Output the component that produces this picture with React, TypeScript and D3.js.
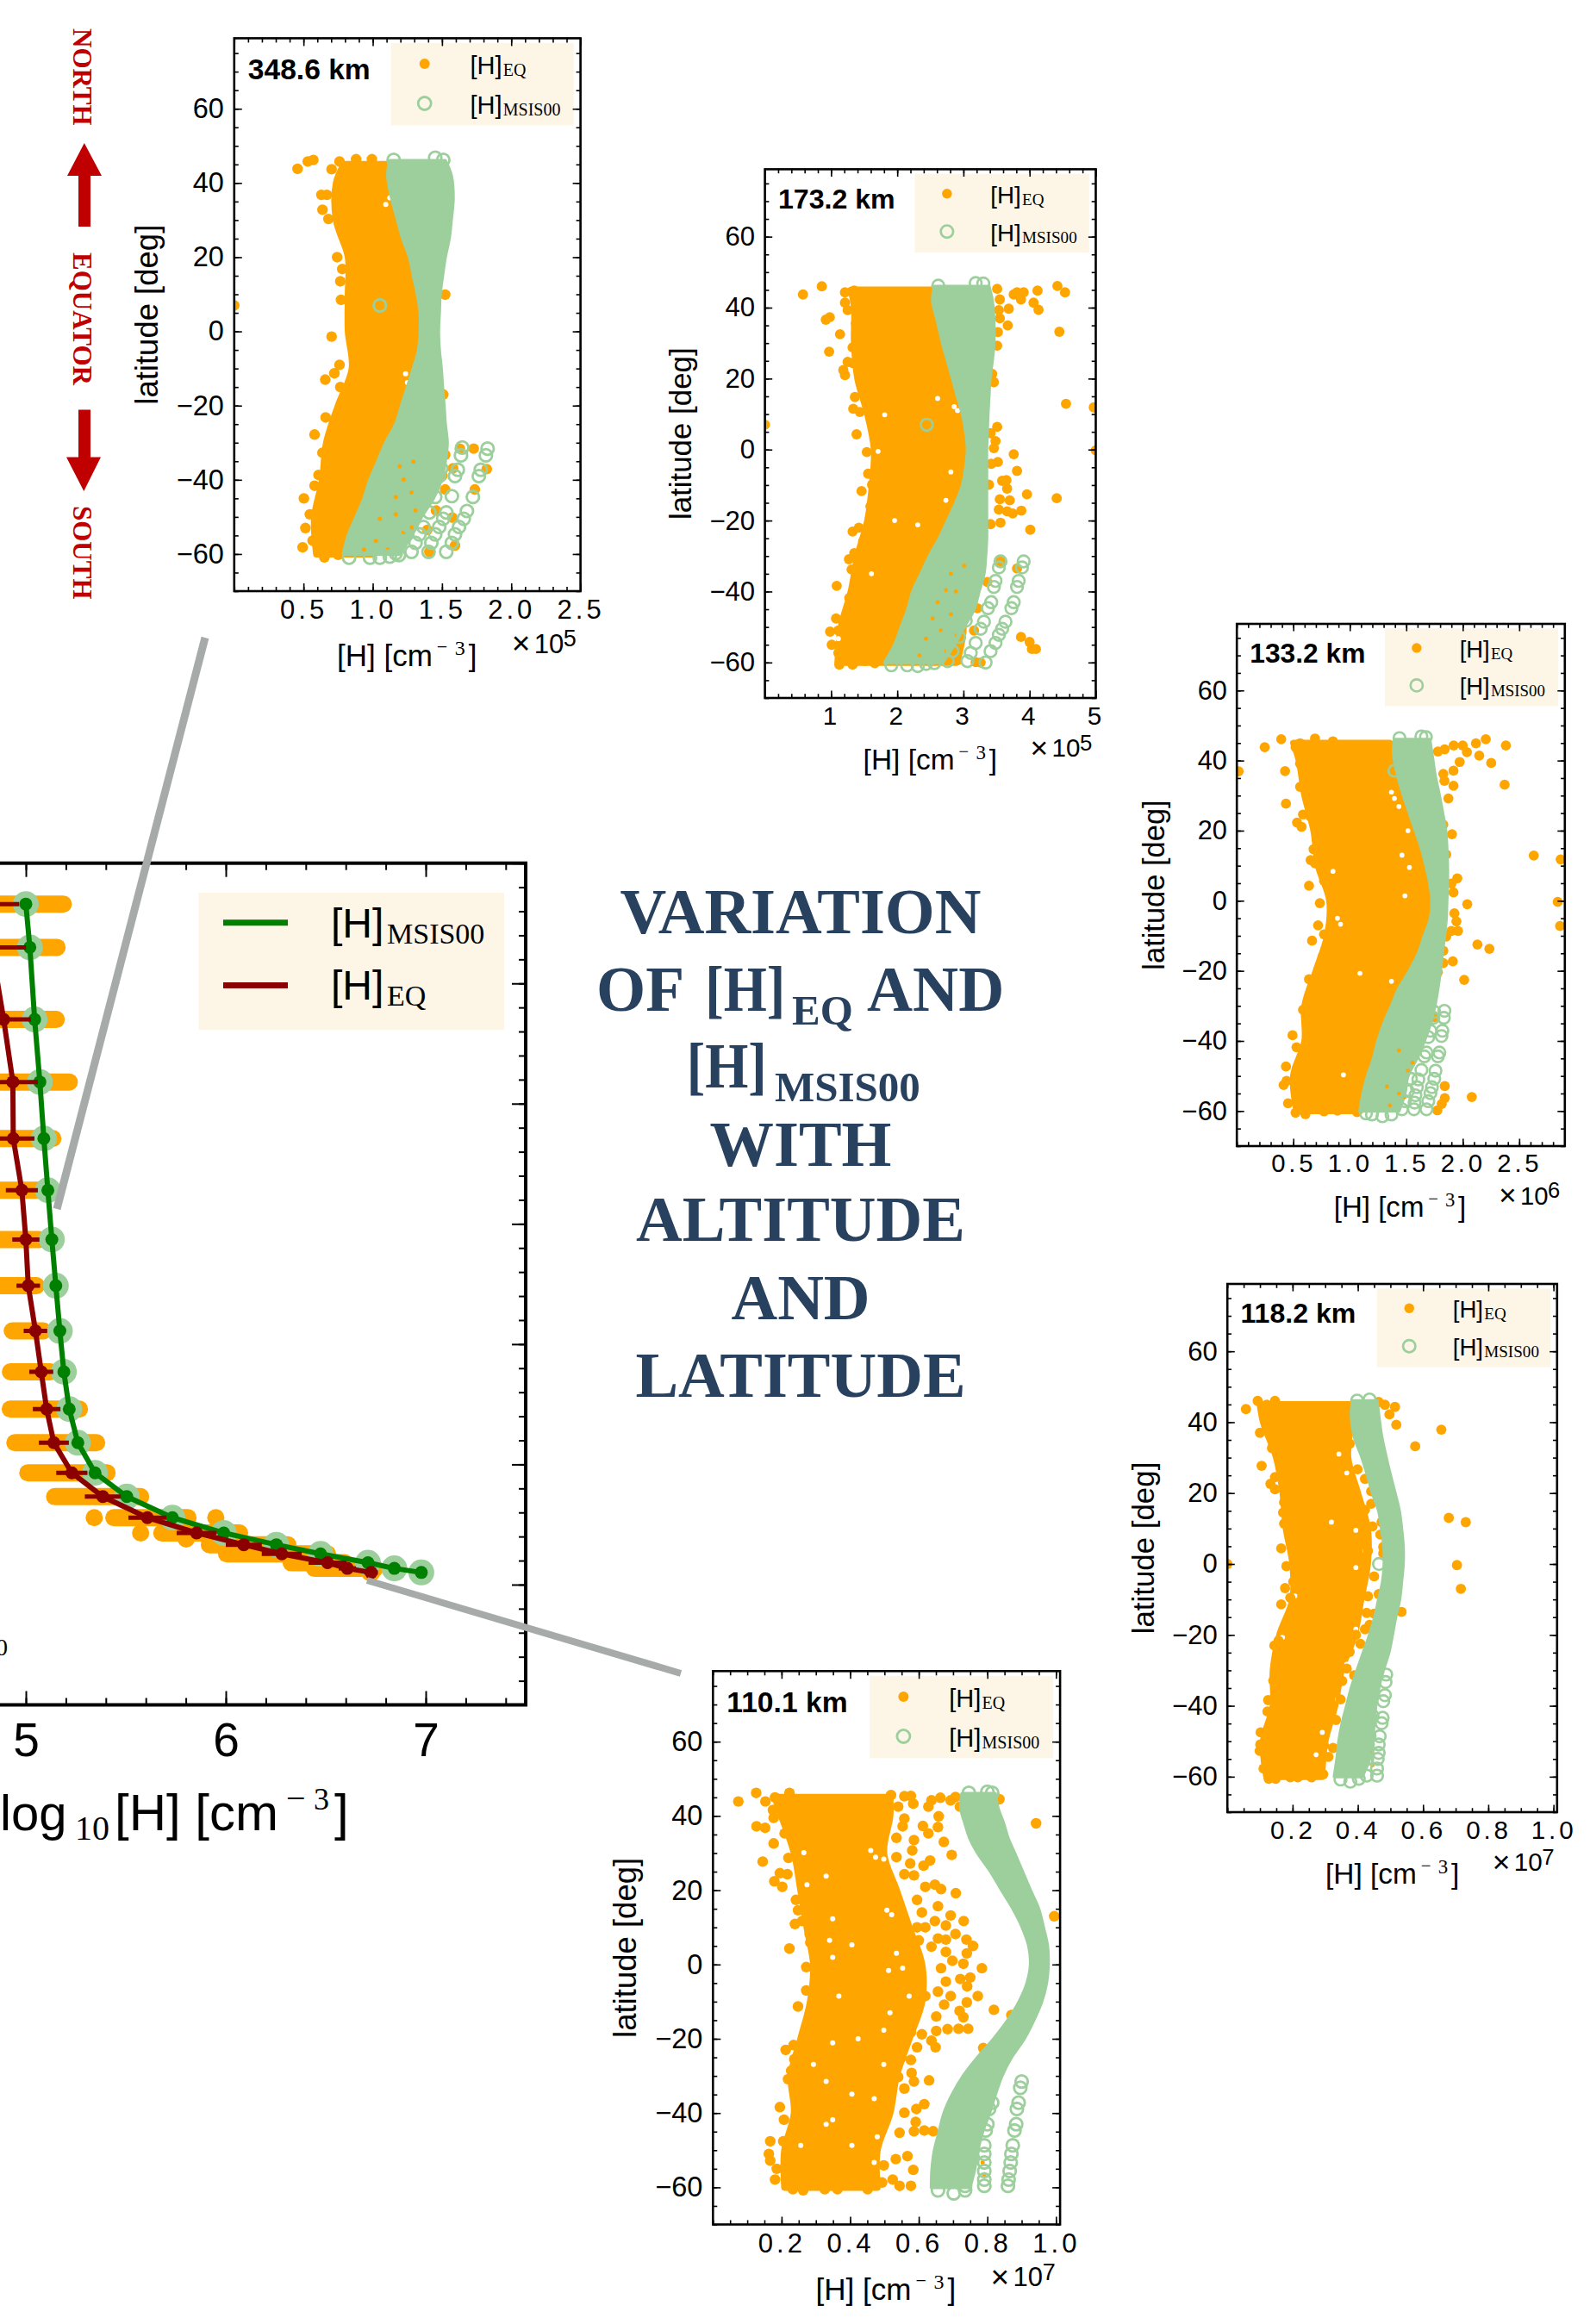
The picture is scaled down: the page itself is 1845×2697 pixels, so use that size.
import React, { useEffect, useRef } from 'react';
import * as d3 from 'd3';

type Pt = [number, number];

const ORANGE = '#ffa500';
const LIGHT_GREEN = '#9ccf9c';
const DARK_GREEN = '#008000';
const DARK_RED = '#8b0000';
const LEGEND_BG = '#fdf5e6';
const GREY = '#a6aaa9';
const NAVY = '#27415f';
const ARROW_RED = '#c00000';
const SANS = '"Liberation Sans", Arial, sans-serif';
const SERIF = '"Liberation Serif", "Times New Roman", serif';

// main profile panel: log10[H] against altitude
const altitudes = [666, 630, 570, 518, 471, 428, 387, 348.6, 311, 277, 246, 218, 193, 173.2, 155.7, 143, 133.2, 125.6, 118.2, 113.5, 110.1];
const logMsis = [5.0, 5.02, 5.044, 5.07, 5.09, 5.11, 5.13, 5.15, 5.17, 5.19, 5.217, 5.26, 5.346, 5.505, 5.733, 5.99, 6.253, 6.474, 6.711, 6.843, 6.978];
const logEq = [4.799, 4.829, 4.889, 4.935, 4.937, 4.98, 5.0, 5.012, 5.048, 5.077, 5.104, 5.14, 5.23, 5.385, 5.608, 5.854, 6.09, 6.28, 6.509, 6.608, 6.727];
const logEqErr = [0.168, 0.172, 0.136, 0.125, 0.106, 0.08, 0.068, 0.059, 0.059, 0.06, 0.069, 0.075, 0.078, 0.09, 0.095, 0.1, 0.09, 0.1, 0.095, 0.043, 0.034];
const rowLo = [4.614, 4.614, 4.614, 4.614, 4.614, 4.614, 4.614, 4.87, 4.932, 4.923, 4.922, 4.945, 5.01, 5.144, 5.44, 5.68, 5.918, 6.004, 6.327, 6.444, 6.72];
const rowHi = [5.187, 5.156, 5.152, 5.217, 5.135, 5.087, 5.066, 5.053, 5.087, 5.122, 5.268, 5.354, 5.406, 5.574, 5.811, 6.069, 6.31, 6.509, 6.595, 6.746, 6.73];
const mainStrays: Pt[] = [[5.342, 155.7], [5.95, 155.7], [5.574, 143], [5.802, 138]];

// latitude grids shared by the small panels
const coreLats = [45, 40, 30, 20, 10, 0, -10, -20, -30, -40, -50, -60];
const bandLats = [46, 42, 36, 30, 25, 20, 15, 10, 5, 0, -5, -10, -15, -20, -25, -30, -35, -40, -45, -50, -55, -60];
const band5Lats = [46, 42, 38, 34, 30, 25, 20, 15, 10, 5, 0, -5, -10, -15, -20, -25, -30, -35, -40, -45, -50, -55, -60];

// 348.6 km
const core1Left = [0.794, 0.737, 0.737, 0.823, 0.823, 0.823, 0.851, 0.751, 0.666, 0.637, 0.58, 0.594];
const core1Right = [1.166, 1.166, 1.194, 1.3, 1.33, 1.36, 1.32, 1.25, 1.166, 1.2, 1.1, 1.0];
const band1Left = [1.123, 1.109, 1.137, 1.18, 1.217, 1.266, 1.294, 1.323, 1.343, 1.343, 1.331, 1.294, 1.251, 1.209, 1.166, 1.094, 1.037, 0.98, 0.937, 0.88, 0.823, 0.789];
const band1Right = [1.523, 1.566, 1.58, 1.566, 1.551, 1.523, 1.503, 1.486, 1.48, 1.474, 1.48, 1.494, 1.503, 1.514, 1.523, 1.537, 1.523, 1.494, 1.437, 1.351, 1.28, 1.194];
const dots1: Pt[] = [[0.457, 43.8], [0.531, 45.8], [0.571, 46.2], [0.703, 43.7], [0.76, 45.8], [0.88, 46.4], [0.994, 46.4], [0.629, 36.8], [0.669, 36.8], [0.637, 32.8], [0.68, 30.3], [0.743, 20], [0.78, 16.8], [0.766, 13.5], [0.771, 8.5], [0.703, -1.4], [0.76, -9], [0.723, -11.3], [0.657, -13], [0.766, -15], [0.66, -23.2], [0.58, -27.8], [0.637, -32.7], [0.609, -38.7], [0.58, -41.6], [0.503, -45], [0.546, -49.3], [0.514, -53], [0.494, -58.2], [0.566, -56.4], [0.651, -60.9], [0.751, -60.2], [1.523, 9.9], [1.223, 11], [1.25, 9.9], [1.266, 14], [1.303, 6.7], [1.314, 1], [1.28, 4], [1.266, -4.9], [1.509, -17], [1.523, -33.3], [1.503, -38.9], [1.523, -42.6], [1.457, -48.3], [1.58, -36.9], [1.629, -31.6], [1.729, -31.6], [1.823, -37.1], [1.737, -42.6], [1.574, -50.2], [1.409, -59.4], [1.594, -57.7], [1.394, -53.5], [0, 7]];
const rings1: Pt[] = [[1.829, -31.6], [1.817, -33.4], [1.78, -37.3], [1.766, -39], [1.723, -44.6], [1.68, -48.4], [1.657, -50.5], [1.623, -52.7], [1.594, -54.7], [1.571, -57], [1.531, -59.4], [1.646, -31.3], [1.637, -33.4], [1.614, -37.3], [1.594, -39], [1.571, -44.4], [1.531, -48.8], [1.509, -50.5], [1.48, -52.7], [1.451, -54.7], [1.423, -57], [1.403, -59.4], [1.28, -59.4], [1.309, -57], [1.337, -54.7], [1.366, -52.7], [1.409, -48.8], [1.451, -44.6], [1.48, -39], [1.494, -36.9], [1.166, -59.8], [1.194, -57], [1.237, -54.7], [1.266, -52.7], [1.294, -48.8], [1.337, -44.6], [1.366, -39.3], [1.394, -36.3], [1.051, -61], [1.123, -60.7], [1.189, -60.3], [0.98, -61], [0.829, -61], [1.151, 46.2], [1.451, 46.8], [1.509, 46.2], [1.051, 7]];
const specks1: Pt[] = [[1.223, -39.9], [1.166, -44.6], [1.28, -43.4], [1.051, -50.5], [1.166, -49.3], [1.309, -48.2], [1.223, -54.1], [1.023, -56.5], [1.109, -58.8], [1.28, -52.9], [1.194, -36.3], [1.294, -35.1], [0.937, -58.8]];
const holes1: Pt[] = [[1.094, 34.2], [1.123, 36], [1.237, -11.4], [1.251, -13.8]];

// 173.2 km
const core2Left = [1.3, 1.35, 1.35, 1.4, 1.55, 1.65, 1.62, 1.55, 1.4, 1.3, 1.15, 1.1];
const core2Right = [2.7, 2.7, 2.8, 2.9, 3.0, 3.05, 3.0, 2.9, 2.8, 2.9, 3.0, 2.9];
const band2Left = [2.56, 2.535, 2.61, 2.685, 2.76, 2.835, 2.91, 2.985, 3.035, 3.06, 3.035, 2.985, 2.885, 2.76, 2.635, 2.485, 2.36, 2.235, 2.16, 2.06, 1.96, 1.81];
const band2Right = [3.385, 3.435, 3.46, 3.46, 3.435, 3.4, 3.385, 3.37, 3.36, 3.35, 3.35, 3.35, 3.35, 3.35, 3.35, 3.335, 3.31, 3.235, 3.16, 3.01, 2.86, 2.685];
const dots2: Pt[] = [[0.575, 43.7], [0.86, 46], [1.21, 44.3], [1.35, 44.8], [1.21, 41.4], [1.25, 39.3], [0.92, 36.6], [0.98, 37.3], [1.135, 32.5], [1.375, 35.6], [1.445, 32], [0.97, 27.6], [1.325, 28.8], [1.25, 24.7], [1.325, 24.4], [1.185, 22.4], [1.21, 21], [1.485, 16.7], [1.36, 14.8], [1.335, 11.5], [1.435, 10.6], [1.385, 4.3], [1.635, 5.8], [1.54, -0.7], [1.685, -4.9], [1.56, -6.8], [1.62, -9.9], [1.46, -11.7], [1.67, -13.4], [1.595, -16], [1.325, -23.1], [1.42, -22], [1.485, -25.8], [1.35, -29.2], [1.27, -30.9], [1.31, -33.8], [1.385, -36.1], [1.36, -38.7], [1.085, -38.4], [1.56, -37.8], [1.275, -41.8], [1.46, -41.3], [1.075, -47.6], [0.985, -51.3], [1.11, -51], [1.01, -55], [1.11, -57.3], [1.125, -60.6], [1.325, -60.6], [1.51, -59.6], [1.66, -60.2], [3.51, 45.3], [3.55, 42.3], [3.535, 39.3], [3.55, 37], [3.685, 39.7], [3.67, 35], [3.52, 33.1], [3.51, 29.3], [3.76, 43.7], [3.81, 44.3], [3.91, 44.3], [3.87, 42.3], [4.06, 41.4], [4.12, 44.8], [4.135, 39.4], [4.42, 46.1], [4.535, 44.3], [4.45, 33.2], [4.55, 12.9], [4.97, 11.9], [5, -0.2], [0, 7], [3.46, 19], [3.435, 21.3], [3.51, 6.4], [3.41, 4.6], [3.485, 2.4], [3.46, 0.4], [3.76, -1.3], [3.52, -3.5], [3.42, -4], [3.81, -6], [3.585, -8.8], [3.65, -8.6], [3.66, -11], [3.385, -9.9], [3.96, -12.6], [3.55, -14], [3.7, -14.3], [4.41, -13.7], [3.535, -16.9], [3.66, -17.4], [3.745, -18], [3.875, -17.2], [3.41, -21], [3.56, -20.6], [4.01, -22.6], [3.56, -31.5], [3.81, -33.5], [3.26, -33.2], [3.36, -37.3], [3.21, -44.7], [3.87, -52.8], [4, -54.2], [4.035, -56.2], [4.095, -56.2], [2.91, -59.3], [3.16, -51], [3.185, -59.9], [3.26, -60]];
const rings2: Pt[] = [[3.91, -31.5], [3.885, -33.2], [3.835, -37], [3.81, -38.7], [3.76, -43], [3.725, -44.7], [3.635, -48.5], [3.585, -50.5], [3.535, -52.2], [3.485, -54.5], [3.41, -56.8], [3.335, -60], [3.56, -31.5], [3.535, -33.2], [3.485, -37], [3.46, -38.7], [3.42, -43], [3.37, -44.7], [3.31, -48.5], [3.26, -50.5], [3.185, -54.5], [3.11, -57.3], [3.06, -59.6], [2.76, -59.6], [2.835, -56.8], [2.935, -52.8], [3.035, -48.2], [2.56, -60.2], [2.435, -60.4], [2.31, -61], [2.15, -60.8], [1.91, -60.8], [2.61, -56.8], [2.735, -52.8], [2.62, 46.2], [3.185, 46.9], [3.3, 46.8], [2.445, 7]];
const specks2: Pt[] = [[2.81, -35], [2.735, -39.6], [2.61, -43], [2.885, -40], [2.81, -46.4], [2.535, -47.6], [2.66, -51], [2.435, -53.3], [2.86, -52.2], [2.335, -58], [2.735, -56.8], [3.01, -32.7]];
const holes2: Pt[] = [[2.61, 14.4], [2.91, 11], [1.96, -20], [2.31, -21.2], [1.71, -0.5], [2.81, -6.3], [1.61, -35], [1.81, 9.8], [2.735, -14.3], [1.11, -53.3], [2.86, 12.1], [2.81, 30.5]];

// 133.2 km
const core3Left = [0.5, 0.55, 0.6, 0.68, 0.72, 0.82, 0.8, 0.7, 0.6, 0.6, 0.5, 0.53];
const core3Right = [1.355, 1.4, 1.488, 1.62, 1.674, 1.727, 1.674, 1.515, 1.382, 1.276, 1.143, 1.09];
const band3Left = [1.395, 1.387, 1.422, 1.475, 1.528, 1.581, 1.634, 1.674, 1.708, 1.727, 1.714, 1.66, 1.607, 1.528, 1.435, 1.369, 1.302, 1.249, 1.209, 1.157, 1.117, 1.09];
const band3Right = [1.708, 1.727, 1.754, 1.793, 1.822, 1.849, 1.859, 1.865, 1.865, 1.859, 1.854, 1.838, 1.819, 1.801, 1.78, 1.753, 1.714, 1.66, 1.594, 1.515, 1.488, 1.435];
const dots3: Pt[] = [[0.247, 43.8], [0.393, 46.1], [0.427, 37], [0.52, 43.8], [0.56, 44.9], [0.692, 46.3], [0.851, 45.5], [0.56, 41.2], [0.56, 39.1], [0.626, 35], [0.56, 32.5], [0.435, 27.7], [0.586, 24.6], [0.533, 22.3], [0.573, 21.1], [0.652, 24], [0.666, 28], [0.706, 17.6], [0.679, 14.7], [0.653, 11.6], [0.692, 10.7], [0.639, 4.3], [0.772, 5.7], [0.735, -0.7], [0.851, -0.9], [0.719, -7], [0.666, -11.4], [0.772, -9.6], [0.759, -16], [0.639, -22.4], [0.692, -25.3], [0.586, -31.1], [0.613, -32.8], [0.493, -38.4], [0.528, -41.8], [0.613, -43.9], [0.435, -47.3], [0.533, -47.7], [0.414, -52.6], [0.44, -51.4], [0.454, -57.8], [0.52, -60.5], [0.607, -60.9], [0.772, -60.1], [0.891, -59.9], [1.064, -60.3], [1.78, 42.6], [1.84, 43.2], [1.92, 44.3], [2, 44.3], [2.037, 42.4], [2.117, 44.9], [2.146, 41.4], [2.204, 46.1], [2.252, 39.3], [2.382, 44.3], [2.371, 33.1], [1.973, 39.6], [1.918, 37.1], [1.828, 36.2], [1.838, 34.2], [1.918, 32.8], [1.873, 29.2], [1.828, 21.7], [1.905, 19], [1.854, 13.2], [2.629, 12.9], [2.867, 11.8], [2.841, -0.3], [2.862, -7.2], [1.952, 6.4], [1.9, 4.9], [1.918, 2.4], [2.04, -1], [1.926, -3.6], [1.944, -5.9], [1.9, -8.6], [1.958, -8.6], [1.854, -10.2], [2.13, -12.5], [2.236, -13.7], [1.828, -14.3], [1.828, -17.8], [1.912, -17.3], [2.013, -22.6], [1.78, -20.4], [1.748, -33.2], [1.841, -52.9], [2.08, -56], [1.841, -56.3], [1.814, -58], [1.775, -59.8], [0.016, 36.9]];
const rings3: Pt[] = [[1.838, -31.4], [1.833, -33.4], [1.82, -37.1], [1.812, -38.6], [1.793, -43.3], [1.78, -44.4], [1.759, -48.5], [1.748, -50.8], [1.727, -53.2], [1.714, -54.9], [1.695, -57.2], [1.679, -59.5], [1.748, -31.7], [1.74, -33.4], [1.714, -37.1], [1.695, -38.9], [1.679, -43.3], [1.66, -44.4], [1.634, -48.3], [1.607, -51], [1.594, -53.2], [1.581, -55.5], [1.573, -57.6], [1.568, -59.5], [1.541, -50.8], [1.515, -54.3], [1.488, -57.2], [1.462, -59.5], [1.289, -61.5], [1.196, -61], [1.369, -61], [1.143, -60.7], [1.44, 46.4], [1.634, 46.9], [1.674, 46.7], [1.395, 37.1]];
const specks3: Pt[] = [[1.435, -42.7], [1.515, -48.5], [1.329, -53], [1.435, -55], [1.488, -56], [1.355, -58.4], [1.554, -46.2]];
const holes3: Pt[] = [[1.369, 31], [1.395, 29.2], [1.435, 26.9], [1.462, 13], [0.918, -6.7], [0.891, -5], [1.488, 1.4], [1.528, 9.5], [1.369, -23], [0.944, -49.7], [1.515, 20], [1.09, -20.7], [0.851, 8.4]];

// 118.2 km
const core4Left = [0.1, 0.11, 0.15, 0.17, 0.18, 0.2, 0.2, 0.16, 0.14, 0.14, 0.11, 0.12];
const core4Right = [0.39, 0.38, 0.37, 0.4, 0.43, 0.43, 0.41, 0.39, 0.35, 0.33, 0.3, 0.29];
const band4Left = [0.384, 0.38, 0.389, 0.413, 0.43, 0.445, 0.464, 0.473, 0.48, 0.481, 0.476, 0.464, 0.452, 0.436, 0.417, 0.398, 0.38, 0.366, 0.352, 0.342, 0.336, 0.328];
const band4Right = [0.459, 0.464, 0.473, 0.487, 0.5, 0.514, 0.527, 0.534, 0.539, 0.539, 0.534, 0.528, 0.516, 0.506, 0.495, 0.478, 0.464, 0.455, 0.45, 0.445, 0.436, 0.413];
const dots4: Pt[] = [[0.057, 43.7], [0.093, 46], [0.121, 44.9], [0.146, 46], [0.132, 39.3], [0.1, 37], [0.137, 32.7], [0.105, 27.7], [0.132, 22.6], [0.146, 21.1], [0.146, 24.5], [0.174, 17.4], [0.171, 14.5], [0.174, 11.4], [0.202, 6], [0.165, 4.4], [0.214, 2.8], [0.181, -0.6], [0.211, -0.6], [0.177, -6.8], [0.202, -5], [0.193, -9.5], [0.165, -11.4], [0.188, -15.9], [0.179, -18.8], [0.157, -21.6], [0.144, -23], [0.155, -25.4], [0.151, -28.3], [0.141, -32.9], [0.125, -38.4], [0.123, -41.6], [0.151, -43.4], [0.102, -47.5], [0.125, -48], [0.101, -50.9], [0.099, -52.7], [0.123, -54.4], [0.111, -57.7], [0.127, -60.6], [0.148, -60.6], [0.193, -60.2], [0.216, -60.2], [0.258, -60.2], [0, 0], [0.294, -59.3], [0.31, -54.4], [0.296, -51.2], [0.324, -51.9], [0.333, -44], [0.347, -38.2], [0.366, -29.5], [0.389, -31.4], [0.352, -33], [0.375, -24.8], [0.408, -22.5], [0.394, -20], [0.422, -18.4], [0.436, -17.2], [0.394, -15.5], [0.427, -13.8], [0.45, -14], [0.534, -13.5], [0.464, -8.5], [0.431, -9.1], [0.403, -5], [0.45, -3.5], [0.431, 3.7], [0.478, 4.8], [0.478, 3], [0.469, 8.3], [0.445, 10.6], [0.473, 11.8], [0.441, 17], [0.422, 15.3], [0.441, 20.5], [0.422, 24], [0.399, 26.7], [0.356, 27.5], [0.375, 33.9], [0.375, 37.3], [0.408, 40.8], [0.464, 45.7], [0.483, 44.9], [0.514, 44.3], [0.497, 42.2], [0.518, 39.3], [0.656, 37.9], [0.576, 33.2], [0.679, 13], [0.731, 11.8], [0.704, -0.3], [0.716, -7]];
const rings4: Pt[] = [[0.487, -31.2], [0.485, -33.3], [0.483, -37], [0.478, -38.7], [0.476, -43.4], [0.473, -44.9], [0.467, -48.6], [0.464, -50.9], [0.464, -53.3], [0.461, -55], [0.459, -57.7], [0.459, -59.7], [0.436, -48.6], [0.431, -50.9], [0.429, -55], [0.427, -59.7], [0.445, -42.8], [0.377, -61.4], [0.347, -60.8], [0.403, -60.6], [0.398, 46.1], [0.436, 46.4], [0.465, 0]];
const specks4: Pt[] = [[0.445, -53.3], [0.445, -56.8]];
const holes4: Pt[] = [[0.342, 31], [0.366, 25.7], [0.319, 11.8], [0.394, 9.5], [0.422, 3.7], [0.394, -1], [0.403, -5.6], [0.394, -18.4], [0.366, -28.3], [0.338, -38.2], [0.291, -47.5], [0.272, -53.8], [0.207, -9], [0.169, -20.7]];

// 110.1 km
const core5Left = [0.181, 0.2, 0.237, 0.256, 0.274, 0.293, 0.284, 0.256, 0.228, 0.237, 0.209, 0.209];
const core5Right = [0.516, 0.516, 0.498, 0.535, 0.572, 0.609, 0.609, 0.572, 0.535, 0.516, 0.479, 0.479];
const band5Left = [0.726, 0.723, 0.735, 0.749, 0.772, 0.81, 0.842, 0.875, 0.902, 0.921, 0.926, 0.916, 0.893, 0.86, 0.819, 0.772, 0.73, 0.698, 0.674, 0.66, 0.646, 0.639, 0.637];
const band5Right = [0.823, 0.831, 0.847, 0.86, 0.879, 0.902, 0.925, 0.949, 0.963, 0.975, 0.977, 0.972, 0.958, 0.935, 0.907, 0.87, 0.842, 0.823, 0.806, 0.786, 0.772, 0.763, 0.749];
const dots5: Pt[] = [[0.074, 43.9], [0.126, 46.2], [0.153, 43.9], [0.127, 37.2], [0.152, 36.8], [0.177, 39.5], [0.175, 41.6], [0.181, 45], [0.223, 46.2], [0.177, 32.6], [0.209, 35.3], [0.22, 28.7], [0.145, 27.7], [0.195, 24.6], [0.217, 24.3], [0.179, 22.4], [0.202, 20.9], [0.242, 17.4], [0.248, 14.6], [0.239, 10.9], [0.26, 11.7], [0.282, 8.2], [0.284, 5.9], [0.223, 4.3], [0.316, 3], [0.272, -0.7], [0.318, -0.7], [0.3, -5], [0.272, -7], [0.298, -8.5], [0.248, -11.3], [0.321, -6.7], [0.288, -16.2], [0.267, -18.5], [0.235, -21.7], [0.212, -23], [0.237, -25.5], [0.228, -28.6], [0.219, -30.9], [0.247, -33.2], [0.195, -38.4], [0.207, -41.8], [0.247, -43.8], [0.167, -47.6], [0.205, -47.6], [0.163, -51], [0.167, -52.8], [0.186, -55], [0.181, -57.9], [0.233, -60.5], [0.263, -60.8], [0.326, -60.5], [0.363, -60.5], [0.451, -60.5], [0.493, -58.7], [0.524, -57.9], [0.544, -59.6], [0.577, -59.6], [0.584, -55.3], [0.567, -51.6], [0.533, -52.4], [0.498, -54.1], [0.544, -45.3], [0.586, -44.9], [0.616, -44.7], [0.642, -44.9], [0.591, -42.4], [0.593, -38.9], [0.616, -37.6], [0.558, -39.9], [0.558, -33.4], [0.586, -31.5], [0.63, -31.2], [0.579, -29.2], [0.54, -30.3], [0.577, -25.7], [0.549, -25.1], [0.595, -22.3], [0.649, -22.3], [0.637, -20.5], [0.609, -18.8], [0.651, -17.9], [0.684, -17.4], [0.716, -17.3], [0.744, -17.3], [0.577, -18.2], [0.651, -14], [0.73, -14.2], [0.719, -12.5], [0.674, -10.8], [0.74, -10.2], [0.772, -8.5], [0.693, -8.5], [0.656, -7.3], [0.619, -8.5], [0.741, -5.9], [0.679, -4.6], [0.721, -3.9], [0.75, -3.5], [0.784, -1], [0.665, -1], [0.698, 1], [0.73, 0.2], [0.679, 3.4], [0.74, 3], [0.758, 5], [0.637, 4.8], [0.739, 6.7], [0.707, 8.2], [0.679, 6.7], [0.656, 7], [0.6, 6.5], [0.679, 10.5], [0.731, 11.7], [0.693, 13.2], [0.619, 10], [0.647, 11.7], [0.595, 10], [0.656, 15.7], [0.609, 14], [0.665, 20.3], [0.708, 19.2], [0.619, 20.9], [0.647, 21.5], [0.595, 17.4], [0.558, 24.3], [0.586, 24], [0.614, 26.6], [0.633, 28], [0.696, 29.5], [0.575, 27.2], [0.673, 33], [0.586, 33.5], [0.628, 35.3], [0.656, 37], [0.658, 39.9], [0.612, 37.3], [0.581, 30.7], [0.535, 34.1], [0.535, 28.9], [0.558, 39.3], [0.553, 37.2], [0.54, 42.5], [0.584, 43.3], [0.558, 45.3], [0.577, 45.4], [0.519, 45.6], [0.628, 42.5], [0.637, 44.2], [0.663, 44.9], [0.693, 44.2], [0.707, 45.1], [0.72, 42.5], [0.835, 44.5], [0.942, 38], [0.995, 13], [0.87, -13.6], [0.788, -22.5], [0.819, -12.2]];
const rings5: Pt[] = [[0.9, -31.5], [0.896, -33.2], [0.891, -37.2], [0.886, -38.9], [0.884, -43], [0.879, -44.7], [0.874, -48.7], [0.87, -51], [0.868, -53.3], [0.865, -55.6], [0.862, -57.9], [0.86, -59.6], [0.814, -37.2], [0.805, -38.9], [0.8, -43], [0.795, -44.7], [0.791, -48.7], [0.791, -51], [0.791, -53.3], [0.791, -55.6], [0.791, -57.9], [0.791, -59.6], [0.744, -51], [0.74, -55.6], [0.735, -59.6], [0.702, -61.6], [0.656, -60.8], [0.735, -60.8], [0.746, 46.2], [0.8, 46.5], [0.814, 46.2]];
const specks5: Pt[] = [[0.786, -53.3], [0.791, -56.5]];
const holes5: Pt[] = [[0.265, 30.1], [0.46, 30.7], [0.474, 28.9], [0.498, 28.4], [0.274, 21.5], [0.33, 23.8], [0.349, 12.3], [0.507, 14.6], [0.521, 13.4], [0.405, 5.3], [0.34, 6.5], [0.535, 3], [0.553, -1], [0.349, 1.9], [0.512, -1.6], [0.572, -8.5], [0.367, -8.5], [0.516, -13], [0.498, -17.7], [0.349, -21.1], [0.423, -20], [0.498, -26.9], [0.33, -31.5], [0.405, -34.9], [0.47, -36.1], [0.349, -41.8], [0.479, -46.4], [0.405, -48.7], [0.256, -48.7], [0.47, -53.3], [0.33, -43], [0.293, -26.9]];

const panels = [
  { label: '348.6 km', box: [271.8, 44.4, 401.8, 641.6], xMax: 2.5, xMajor: [0.5, 1, 1.5, 2, 2.5], xStep: 0.1, xFmt: '.1f', exp: '5', lats: bandLats, coreL: core1Left, coreR: core1Right, bandL: band1Left, bandR: band1Right, dots: dots1, rings: rings1, specks: specks1, holes: holes1 },
  { label: '173.2 km', box: [887.6, 196.4, 383.9, 613.6], xMax: 5, xMajor: [1, 2, 3, 4, 5], xStep: 0.2, xFmt: 'd', exp: '5', lats: bandLats, coreL: core2Left, coreR: core2Right, bandL: band2Left, bandR: band2Right, dots: dots2, rings: rings2, specks: specks2, holes: holes2 },
  { label: '133.2 km', box: [1435.2, 724, 380.6, 606], xMax: 2.904, xMajor: [0.5, 1, 1.5, 2, 2.5], xStep: 0.1, xFmt: '.1f', exp: '6', lats: bandLats, coreL: core3Left, coreR: core3Right, bandL: band3Left, bandR: band3Right, dots: dots3, rings: rings3, specks: specks3, holes: holes3 },
  { label: '118.2 km', box: [1424.2, 1490, 382.6, 613], xMax: 1.011, xMajor: [0.2, 0.4, 0.6, 0.8, 1], xStep: 0.05, xFmt: '.1f', exp: '7', lats: bandLats, coreL: core4Left, coreR: core4Right, bandL: band4Left, bandR: band4Right, dots: dots4, rings: rings4, specks: specks4, holes: holes4 },
  { label: '110.1 km', box: [827.3, 1939.3, 402.8, 642.2], xMax: 1.012, xMajor: [0.2, 0.4, 0.6, 0.8, 1], xStep: 0.05, xFmt: '.1f', exp: '7', lats: band5Lats, coreL: core5Left, coreR: core5Right, bandL: band5Left, bandR: band5Right, dots: dots5, rings: rings5, specks: specks5, holes: holes5 },
];

const yMajor = [-60, -40, -20, 0, 20, 40, 60];
const yMinor = d3.range(-70, 80, 5);

const tickRange = (max: number, step: number) => d3.range(0, Math.floor(max / step + 1e-6) + 1).map(i => i * step);

function styleAxis(sel: any, width = 2) {
  sel.select('.domain').remove();
  sel.selectAll('line').attr('stroke', '#000').attr('stroke-width', width);
}

function txt(parent: any, x: number, y: number, s: string, size: number, family = SANS, extra: Record<string, any> = {}) {
  const t = parent.append('text').attr('x', x).attr('y', y).attr('font-size', size).attr('font-family', family).attr('fill', '#000').text(s);
  Object.entries(extra).forEach(([k, v]) => t.attr(k, v));
  return t;
}

function drawPanel(svg: any, p: any, idx: number) {
  const [left, top, w, h] = p.box;
  const k = h / 641.6;
  const g = svg.append('g').attr('transform', `translate(${left},${top})`);
  const x = d3.scaleLinear().domain([0, p.xMax]).range([0, w]);
  const y = d3.scaleLinear().domain([-70, 79]).range([h, 0]);

  const clipId = `clip-${idx}`;
  g.append('clipPath').attr('id', clipId).append('rect').attr('width', w).attr('height', h);
  const plot = g.append('g').attr('clip-path', `url(#${clipId})`);

  // dense EQ cloud
  const coreArea = d3.area<number>()
    .curve(d3.curveCatmullRom)
    .y(d => y(d))
    .x0((_, i) => x(p.coreL[i]))
    .x1((_, i) => x(p.coreR[i]));
  plot.append('path').attr('d', coreArea(coreLats)).attr('fill', ORANGE).attr('stroke', ORANGE).attr('stroke-width', 8 * k).attr('stroke-linejoin', 'round');
  plot.selectAll('.hole').data(p.holes).join('circle').attr('class', 'hole')
    .attr('cx', (d: Pt) => x(d[0])).attr('cy', (d: Pt) => y(d[1])).attr('r', 3 * k).attr('fill', '#fff');
  plot.selectAll('.eq').data(p.dots).join('circle').attr('class', 'eq')
    .attr('cx', (d: Pt) => x(d[0])).attr('cy', (d: Pt) => y(d[1])).attr('r', 6.2 * k).attr('fill', ORANGE);

  // MSIS band and its tails
  const bandArea = d3.area<number>()
    .curve(d3.curveCatmullRom)
    .y(d => y(d))
    .x0((_, i) => x(p.bandL[i]))
    .x1((_, i) => x(p.bandR[i]));
  plot.append('path').attr('d', bandArea(p.lats)).attr('fill', LIGHT_GREEN).attr('stroke', LIGHT_GREEN).attr('stroke-width', 4 * k).attr('stroke-linejoin', 'round');
  plot.selectAll('.speck').data(p.specks).join('circle').attr('class', 'speck')
    .attr('cx', (d: Pt) => x(d[0])).attr('cy', (d: Pt) => y(d[1])).attr('r', 2.5 * k).attr('fill', ORANGE);
  plot.selectAll('.msis').data(p.rings).join('circle').attr('class', 'msis')
    .attr('cx', (d: Pt) => x(d[0])).attr('cy', (d: Pt) => y(d[1])).attr('r', 7.2 * k)
    .attr('fill', 'none').attr('stroke', LIGHT_GREEN).attr('stroke-width', 2.8 * k);

  // legend
  const lg = g.append('g');
  lg.append('rect').attr('x', 181.8 * k).attr('y', 5.6 * k).attr('width', w - 181.8 * k - 8 * k).attr('height', 95.4 * k).attr('fill', LEGEND_BG);
  lg.append('circle').attr('cx', 220.9 * k).attr('cy', 29.6 * k).attr('r', 6 * k).attr('fill', ORANGE);
  lg.append('circle').attr('cx', 220.9 * k).attr('cy', 75.6 * k).attr('r', 7.5 * k).attr('fill', 'none').attr('stroke', LIGHT_GREEN).attr('stroke-width', 2.8 * k);
  txt(lg, 273.7 * k, 41.3 * k, '[H]', 29 * k);
  txt(lg, 312 * k, 43.4 * k, 'EQ', 20 * k, SERIF);
  txt(lg, 273.7 * k, 87.2 * k, '[H]', 29 * k);
  txt(lg, 312 * k, 89.3 * k, 'MSIS00', 20 * k, SERIF);

  txt(g, 16 * k, 47.6 * k, p.label, 33.6 * k, SANS, { 'font-weight': 'bold' });

  // ticks point inward on all four sides
  const xMinor = tickRange(p.xMax, p.xStep);
  const none = () => '';
  g.append('g').attr('transform', `translate(0,${h})`).call(d3.axisBottom(x).tickValues(xMinor).tickSize(-5 * k).tickFormat(none)).call(styleAxis, 1.6);
  g.append('g').call(d3.axisTop(x).tickValues(xMinor).tickSize(-5 * k).tickFormat(none)).call(styleAxis, 1.6);
  g.append('g').call(d3.axisLeft(y).tickValues(yMinor).tickSize(-5 * k).tickFormat(none)).call(styleAxis, 1.6);
  g.append('g').attr('transform', `translate(${w},0)`).call(d3.axisRight(y).tickValues(yMinor).tickSize(-5 * k).tickFormat(none)).call(styleAxis, 1.6);
  g.append('g').call(d3.axisTop(x).tickValues(p.xMajor).tickSize(-9 * k).tickFormat(none)).call(styleAxis, 1.6);
  g.append('g').attr('transform', `translate(${w},0)`).call(d3.axisRight(y).tickValues(yMajor).tickSize(-9 * k).tickFormat(none)).call(styleAxis, 1.6);

  const bottom = g.append('g').attr('transform', `translate(0,${h})`)
    .call(d3.axisBottom(x).tickValues(p.xMajor).tickSize(-9 * k).tickFormat(d3.format(p.xFmt) as any));
  bottom.call(styleAxis, 1.6);
  bottom.selectAll('text').attr('y', 32 * k).attr('dy', 0).attr('font-size', 31 * k).attr('font-family', SANS).attr('letter-spacing', `${4 * k}px`).attr('fill', '#000');

  const leftAxis = g.append('g').call(d3.axisLeft(y).tickValues(yMajor).tickSize(-9 * k).tickPadding(12 * k).tickFormat(d3.format('d') as any));
  leftAxis.call(styleAxis, 1.6);
  leftAxis.selectAll('text').attr('font-size', 32.5 * k).attr('font-family', SANS).attr('fill', '#000');

  g.append('rect').attr('width', w).attr('height', h).attr('fill', 'none').attr('stroke', '#000').attr('stroke-width', 2.6);

  // axis titles
  txt(g, 0, 0, 'latitude [deg]', 36.5 * k, SANS, { 'text-anchor': 'middle', transform: `translate(${-89 * k},${h / 2}) rotate(-90)` });
  txt(g, 119.2 * k, h + 87 * k, '[H] [cm', 35 * k);
  txt(g, 235 * k, h + 72 * k, '\u2212', 22 * k, SERIF);
  txt(g, 256 * k, h + 74 * k, '3', 24 * k, SERIF);
  txt(g, 272 * k, h + 87 * k, ']', 35 * k);
  txt(g, 322 * k, h + 73 * k, '\u00d7', 37 * k);
  txt(g, 348 * k, h + 71.6 * k, '10', 31 * k);
  txt(g, 382 * k, h + 64 * k, p.exp, 27 * k);
}

function drawMain(svg: any) {
  const x = d3.scaleLinear().domain([5, 7.5]).range([30, 610]);
  const y = d3.scaleLinear().domain([0, 700]).range([1978.5, 1001.7]);
  const g = svg.append('g');

  // EQ spread at each altitude is a run of overlapping dots
  g.selectAll('.row').data(altitudes).join('line').attr('class', 'row')
    .attr('x1', (_: number, i: number) => x(rowLo[i])).attr('x2', (_: number, i: number) => x(rowHi[i]))
    .attr('y1', (d: number) => y(d)).attr('y2', (d: number) => y(d))
    .attr('stroke', ORANGE).attr('stroke-width', 20).attr('stroke-linecap', 'round');
  g.selectAll('.stray').data(mainStrays).join('circle').attr('class', 'stray')
    .attr('cx', (d: Pt) => x(d[0])).attr('cy', (d: Pt) => y(d[1])).attr('r', 10).attr('fill', ORANGE);

  g.selectAll('.halo').data(altitudes).join('circle').attr('class', 'halo')
    .attr('cx', (_: number, i: number) => x(logMsis[i])).attr('cy', (d: number) => y(d)).attr('r', 15).attr('fill', LIGHT_GREEN);

  const msisLine = d3.line<number>().x((_, i) => x(logMsis[i])).y(d => y(d));
  g.append('path').attr('d', msisLine(altitudes)).attr('fill', 'none').attr('stroke', DARK_GREEN).attr('stroke-width', 6);
  g.selectAll('.msisDot').data(altitudes).join('circle').attr('class', 'msisDot')
    .attr('cx', (_: number, i: number) => x(logMsis[i])).attr('cy', (d: number) => y(d)).attr('r', 7.5).attr('fill', DARK_GREEN);

  const eqLine = d3.line<number>().x((_, i) => x(logEq[i])).y(d => y(d));
  g.append('path').attr('d', eqLine(altitudes)).attr('fill', 'none').attr('stroke', DARK_RED).attr('stroke-width', 6);
  g.selectAll('.err').data(altitudes).join('line').attr('class', 'err')
    .attr('x1', (_: number, i: number) => x(logEq[i] - logEqErr[i])).attr('x2', (_: number, i: number) => x(logEq[i] + logEqErr[i]))
    .attr('y1', (d: number) => y(d)).attr('y2', (d: number) => y(d))
    .attr('stroke', DARK_RED).attr('stroke-width', 5);
  g.selectAll('.eqDot').data(altitudes).join('circle').attr('class', 'eqDot')
    .attr('cx', (_: number, i: number) => x(logEq[i])).attr('cy', (d: number) => y(d)).attr('r', 7.5).attr('fill', DARK_RED);

  // legend
  g.append('rect').attr('x', 230.5).attr('y', 1036).attr('width', 354.5).attr('height', 159).attr('fill', LEGEND_BG);
  g.append('line').attr('x1', 259).attr('x2', 334).attr('y1', 1070.7).attr('y2', 1070.7).attr('stroke', DARK_GREEN).attr('stroke-width', 7);
  g.append('line').attr('x1', 259).attr('x2', 334).attr('y1', 1143.5).attr('y2', 1143.5).attr('stroke', DARK_RED).attr('stroke-width', 7);
  txt(g, 384, 1088, '[H]', 48);
  txt(g, 449, 1095, 'MSIS00', 34, SERIF);
  txt(g, 384, 1160, '[H]', 48);
  txt(g, 449, 1167, 'EQ', 34, SERIF);

  // ticks
  const none = () => '';
  const xMinor = d3.range(5, 7.6, 0.2);
  const yMinorMain = d3.range(0, 701, 20);
  const yMajorMain = d3.range(0, 701, 100);
  g.append('g').attr('transform', `translate(0,${y(0)})`).call(d3.axisBottom(x).tickValues(xMinor).tickSize(-8).tickFormat(none)).call(styleAxis, 2);
  g.append('g').attr('transform', `translate(0,${y(700)})`).call(d3.axisTop(x).tickValues(xMinor).tickSize(-8).tickFormat(none)).call(styleAxis, 2);
  g.append('g').attr('transform', `translate(0,${y(700)})`).call(d3.axisTop(x).tickValues([5, 6, 7]).tickSize(-16).tickFormat(none)).call(styleAxis, 2);
  g.append('g').attr('transform', 'translate(610,0)').call(d3.axisRight(y).tickValues(yMinorMain).tickSize(-8).tickFormat(none)).call(styleAxis, 2);
  g.append('g').attr('transform', 'translate(610,0)').call(d3.axisRight(y).tickValues(yMajorMain).tickSize(-16).tickFormat(none)).call(styleAxis, 2);
  const bottom = g.append('g').attr('transform', `translate(0,${y(0)})`)
    .call(d3.axisBottom(x).tickValues([5, 6, 7]).tickSize(-16).tickFormat(d3.format('d') as any));
  bottom.call(styleAxis, 2);
  bottom.selectAll('text').attr('y', 59).attr('dy', 0).attr('font-size', 55).attr('font-family', SANS).attr('fill', '#000');

  g.append('rect').attr('x', -20).attr('y', y(700)).attr('width', 630).attr('height', y(0) - y(700)).attr('fill', 'none').attr('stroke', '#000').attr('stroke-width', 4);

  // x title
  txt(g, 0, 2124, 'log', 58);
  txt(g, 87, 2135, '10', 40, SERIF);
  txt(g, 133, 2124, '[H] [cm', 60);
  txt(g, 332, 2100, '\u2212', 40, SERIF);
  txt(g, 364, 2100, '3', 36, SERIF);
  txt(g, 388, 2124, ']', 60);
  // clipped leftover of a label that runs off the page
  txt(g, 9, 1921, '0', 28, SERIF, { 'text-anchor': 'end' });
}

function drawAnnotations(svg: any) {
  // callout lines from the main panel to the 348.6 and 110.1 km panels
  svg.append('line').attr('x1', 238).attr('y1', 740).attr('x2', 66).attr('y2', 1403).attr('stroke', GREY).attr('stroke-width', 9);
  svg.append('line').attr('x1', 426).attr('y1', 1834).attr('x2', 790).attr('y2', 1942).attr('stroke', GREY).attr('stroke-width', 8);

  // direction labels
  const dir = (s: string, y0: number) => txt(svg, 0, 0, s, 31, SERIF, { 'font-weight': 'bold', fill: ARROW_RED, transform: `translate(85,${y0}) rotate(90)` });
  dir('NORTH', 33);
  dir('EQUATOR', 293);
  dir('SOUTH', 587);
  const arrow = d3.line();
  svg.append('path').attr('fill', ARROW_RED).attr('d', arrow([[97.8, 166], [118, 204], [105, 204], [105, 263], [91, 263], [91, 204], [78, 204]]) + 'Z');
  svg.append('path').attr('fill', ARROW_RED).attr('d', arrow([[97.3, 570], [117, 530.6], [105, 530.6], [105, 475.5], [91, 475.5], [91, 530.6], [77, 530.6]]) + 'Z');

  // centre title
  const title = (s: string, y0: number) => txt(svg, 929, y0, s, 74.4, SERIF, { 'font-weight': 'bold', fill: NAVY, 'text-anchor': 'middle' });
  title('VARIATION', 1083);
  title('WITH', 1352.7);
  title('ALTITUDE', 1439.8);
  title('AND', 1531);
  title('LATITUDE', 1620.8);
  const tb = { 'font-weight': 'bold', fill: NAVY };
  txt(svg, 692, 1173.4, 'OF', 73.5, SERIF, tb);
  txt(svg, 818.3, 1173.4, '[H]', 74, SERIF, { ...tb, textLength: 93, lengthAdjust: 'spacingAndGlyphs' });
  txt(svg, 919, 1189, 'EQ', 49, SERIF, tb);
  txt(svg, 1006, 1173.4, 'AND', 73.5, SERIF, tb);
  txt(svg, 796.7, 1261.8, '[H]', 74, SERIF, { ...tb, textLength: 93, lengthAdjust: 'spacingAndGlyphs' });
  txt(svg, 899, 1277.8, 'MSIS00', 49, SERIF, tb);
}

const App = () => {
  const svgRef = useRef<SVGSVGElement>(null);

  useEffect(() => {
    const svg = d3.select(svgRef.current);
    svg.selectAll('*').remove();
    drawMain(svg);
    panels.forEach((p, i) => drawPanel(svg, p, i));
    drawAnnotations(svg);
  }, []);

  return <svg ref={svgRef} width={1845} height={2697} style={{ position: 'absolute', left: 0, top: 0, background: '#fff' }} />;
};

export default App;
